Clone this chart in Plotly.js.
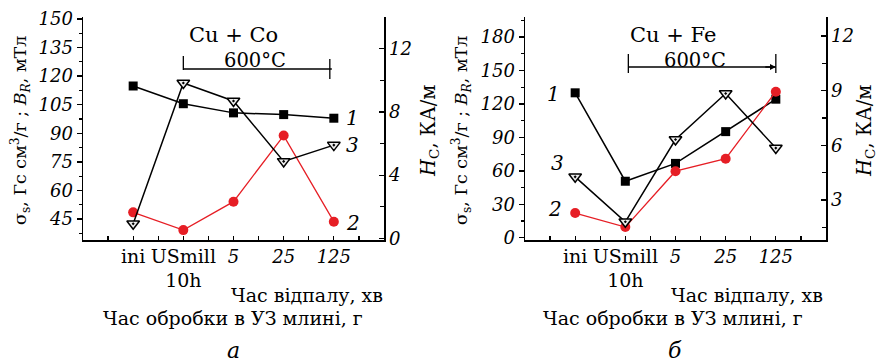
<!DOCTYPE html>
<html>
<head>
<meta charset="utf-8">
<script src="https://cdn.plot.ly/plotly-3.0.1.min.js"></script>
<style>html,body{margin:0;padding:0;background:#fff;}#chart{width:877px;height:363px;}</style>
</head>
<body>
<div id="chart"></div>
<script>
// ---- data ----
const tickLabels = ['ini', 'USmill<br>10h', '5', '25', '125'];
// Cu + Co (panel а)
const coSigma = [114.8, 105.5, 100.7, 99.8, 97.9];   // curve 1, left axis
const coBr    = [48.5, 39.2, 54.1, 88.8, 43.6];      // curve 2, left axis
const coHc    = [0.93, 9.83, 8.69, 4.87, 5.9];       // curve 3, right axis (kA/m)
// Cu + Fe (panel б)
const feSigma = [130, 50.7, 66.7, 95.2, 124.3];
const feBr    = [22.2, 9.6, 59.7, 70.9, 131];
const feHc    = [4.27, 1.8, 6.32, 8.85, 5.85];

const xPos = tickLabels.map((_, i) => i);
// first two labels upright, annealing times italic
const tickText = tickLabels.map((t, i) => i < 2
  ? '<span style="font-size:19px">' + t + '</span>'
  : '<i>' + t + '</i>');

const W = 877, H = 363;
const PX = p => p / W, PY = p => 1 - p / H;
const FONT = 'DejaVu Serif';
const RED = '#e61e25';

function sq(x, y, xa, ya) {
  return {x, y, xaxis: xa, yaxis: ya, mode: 'lines+markers', type: 'scatter',
    line: {color: '#000', width: 1.5},
    marker: {symbol: 'square', size: 9, color: '#000'}, showlegend: false, cliponaxis: false};
}
function circ(x, y, xa, ya) {
  return {x, y, xaxis: xa, yaxis: ya, mode: 'lines+markers', type: 'scatter',
    line: {color: RED, width: 1.3},
    marker: {symbol: 'circle', size: 10, color: RED}, showlegend: false, cliponaxis: false};
}
function tri(x, y, xa, ya) {
  return {x, y, xaxis: xa, yaxis: ya, mode: 'lines+markers', type: 'scatter',
    line: {color: '#000', width: 1.5},
    marker: {symbol: 'triangle-down-dot', size: 11, color: '#eeeeee', line: {color: '#000', width: 1.5}},
    showlegend: false, cliponaxis: false};
}

const data = [
  sq(xPos, coSigma, 'x', 'y'),
  tri(xPos, coHc, 'x', 'y2'),
  circ(xPos, coBr, 'x', 'y'),
  sq(xPos, feSigma, 'x2', 'y3'),
  tri(xPos, feHc, 'x2', 'y4'),
  circ(xPos, feBr, 'x2', 'y3')
];

const yDom = [(H - 240) / H, (H - 17) / H];
const tickFont = {family: FONT, size: 18, color: '#000', style: 'italic'};

function xAxis(domain, anchor) {
  return {domain, anchor, range: [-1, 5], tickmode: 'array', tickvals: xPos, ticktext: tickText,
    ticks: 'inside', ticklen: 4, tickwidth: 1.3, tickcolor: '#000',
    showline: true, linecolor: '#000', linewidth: 1.5, showgrid: false, zeroline: false,
    tickfont: {family: FONT, size: 18, color: '#000'},
    minor: {tickmode: 'array', tickvals: [-0.5, 0.5, 1.5, 2.5, 3.5, 4.5], ticks: 'inside', ticklen: 4, tickcolor: '#000', tickwidth: 1.3, showgrid: false},
    fixedrange: true};
}
function yLeft(range, dtick, anchor) {
  return {domain: yDom, anchor, range, dtick, tick0: 0, ticks: 'outside', ticklen: 5, tickwidth: 1.3, tickcolor: '#000',
    showline: true, linecolor: '#000', linewidth: 1.5, showgrid: false, zeroline: false, tickfont: tickFont,
    minor: {dtick: dtick / 2, tick0: 0, ticks: 'outside', ticklen: 3, tickcolor: '#000', tickwidth: 1.3, showgrid: false},
    fixedrange: true};
}
function yRight(range, dtick, anchor, overlay) {
  return {domain: yDom, anchor, overlaying: overlay, side: 'right', range, dtick, tick0: 0,
    ticks: 'inside', ticklen: 5, tickwidth: 1.3, tickcolor: '#000',
    showline: true, linecolor: '#000', linewidth: 1.5, showgrid: false, zeroline: false, tickfont: tickFont,
    minor: {dtick: dtick / 2, tick0: 0, ticks: 'inside', ticklen: 4, tickcolor: '#000', tickwidth: 1.3, showgrid: false},
    fixedrange: true};
}

function txt(text, x, y, size, extra) {
  return Object.assign({text, xref: 'paper', yref: 'paper', x: PX(x), y: PY(y), xanchor: 'center', yanchor: 'middle',
    showarrow: false, font: {family: FONT, size, color: '#000'}}, extra || {});
}

const leftTitle = 'σ<sub>s</sub>, Гс см<sup>3</sup>/г ; <i>B</i><sub><i>R</i></sub>, мТл';
const rightTitle = '<i>H</i><sub>C</sub>, КА/м';

const annotations = [
  // panel а
  txt(leftTitle, 20, 131, 17.5, {textangle: -90}),
  txt(rightTitle, 429, 131, 19.5, {textangle: -90}),
  txt('Cu + Co', 233, 35, 21),
  txt('600°C', 255, 60, 19.5),
  txt('<i>1</i>', 352, 118, 20),
  txt('<i>3</i>', 352, 145, 20),
  txt('<i>2</i>', 353, 223, 20),
  txt('Час відпалу, хв', 307, 295, 19),
  txt('Час обробки в УЗ млині, г', 233, 318, 19),
  txt('<i>а</i>', 233, 350, 22),
  // panel б
  txt(leftTitle, 461, 131, 17.5, {textangle: -90}),
  txt(rightTitle, 865, 131, 19.5, {textangle: -90}),
  txt('Cu + Fe', 673, 35, 21),
  txt('600°C', 695, 60, 19.5),
  txt('<i>1</i>', 553, 94, 20),
  txt('<i>3</i>', 557, 163, 20),
  txt('<i>2</i>', 555, 209, 20),
  txt('Час відпалу, хв', 747, 295, 19),
  txt('Час обробки в УЗ млині, г', 673, 318, 19),
  txt('<i>б</i>', 675, 350, 22),
  // arrowhead at the end of the panel б bracket
  {xref: 'x2', yref: 'paper', x: 4.0, y: PY(67), ax: -12, ay: 0, showarrow: true, arrowhead: 2,
    arrowsize: 0.9, arrowwidth: 1.3, arrowcolor: '#000', text: ''}
];

const ln = {color: '#000', width: 1.3};
const shapes = [
  // bracket panel а
  {type: 'line', xref: 'x', yref: 'paper', x0: 1, x1: 3.96, y0: PY(69), y1: PY(69), line: ln},
  {type: 'line', xref: 'x', yref: 'paper', x0: 1, x1: 1, y0: PY(56), y1: PY(70), line: ln},
  {type: 'line', xref: 'x', yref: 'paper', x0: 3.92, x1: 3.92, y0: PY(59), y1: PY(79), line: ln},
  // bracket panel б
  {type: 'line', xref: 'x2', yref: 'paper', x0: 1.06, x1: 4.0, y0: PY(67), y1: PY(67), line: ln},
  {type: 'line', xref: 'x2', yref: 'paper', x0: 1.06, x1: 1.06, y0: PY(54), y1: PY(73), line: ln},
  {type: 'line', xref: 'x2', yref: 'paper', x0: 4.0, x1: 4.0, y0: PY(54), y1: PY(73), line: ln}
];

const layout = {
  width: W, height: H,
  margin: {l: 0, r: 0, t: 0, b: 0},
  paper_bgcolor: '#fff', plot_bgcolor: '#fff',
  showlegend: false,
  xaxis: xAxis([83 / W, 384 / W], 'y'),
  yaxis: yLeft([34, 151], 15, 'x'),
  yaxis2: yRight([-0.1, 14], 4, 'x', 'y'),
  xaxis2: xAxis([525 / W, 826 / W], 'y3'),
  yaxis3: yLeft([-2, 198], 30, 'x2'),
  yaxis4: yRight([0.8, 13.05], 3, 'x2', 'y3'),
  annotations, shapes
};

Plotly.newPlot('chart', data, layout, {displayModeBar: false, staticPlot: true});
</script>
</body>
</html>
